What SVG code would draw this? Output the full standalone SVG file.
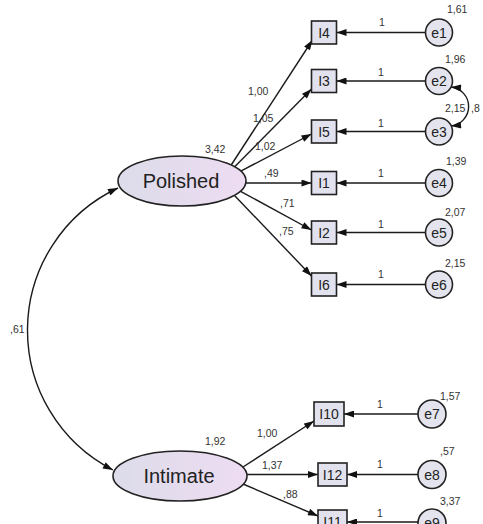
<svg xmlns="http://www.w3.org/2000/svg" width="483" height="524" viewBox="0 0 483 524">
<style>
.lbl{font-family:"Liberation Sans",Arial,sans-serif;font-size:10.5px;fill:#333}
.nt{font-family:"Liberation Sans",Arial,sans-serif;font-size:14px;fill:#222;text-anchor:middle}
.lt{font-family:"Liberation Sans",Arial,sans-serif;font-size:20px;fill:#222;text-anchor:middle}
.box{fill:#e2e2ee;stroke:#222;stroke-width:1.6}
.err{fill:#e4e4ee;stroke:#222;stroke-width:1.6}
.lat{fill:url(#lg);stroke:#222;stroke-width:1.6}
.c{fill:none;stroke:#1a1a1a;stroke-width:1.4}
</style>
<defs>
<linearGradient id="lg" x1="0" y1="0" x2="1" y2="0">
<stop offset="0" stop-color="#dcdcea"/>
<stop offset="1" stop-color="#eedcf2"/>
</linearGradient>
<marker id="ah" viewBox="0 0 10 7" markerUnits="userSpaceOnUse" markerWidth="11" markerHeight="7" refX="10" refY="3.5" orient="auto-start-reverse">
<path d="M0,0 L10,3.5 L0,7 z" fill="#111"/>
</marker>
</defs>
<rect width="483" height="524" fill="#fff"/>

<g id="connectors">
<path class="c" d="M231.2,165 L312.5,40" marker-end="url(#ah)"/>
<path class="c" d="M234.7,166.8 L311.5,89" marker-end="url(#ah)"/>
<path class="c" d="M240.8,171.1 L311.5,134" marker-end="url(#ah)"/>
<path class="c" d="M246,183 L311.5,183" marker-end="url(#ah)"/>
<path class="c" d="M240.6,191.3 L311.5,230" marker-end="url(#ah)"/>
<path class="c" d="M234.5,195.4 L311.5,276" marker-end="url(#ah)"/>
<path class="c" d="M425.5,32.5 L336.5,32.5" marker-end="url(#ah)"/>
<path class="c" d="M425.5,81 L336.5,81" marker-end="url(#ah)"/>
<path class="c" d="M425.5,131.5 L336.5,131.5" marker-end="url(#ah)"/>
<path class="c" d="M425.5,183 L336.5,183" marker-end="url(#ah)"/>
<path class="c" d="M425.5,232.5 L336.5,232.5" marker-end="url(#ah)"/>
<path class="c" d="M425.5,284.5 L336.5,284.5" marker-end="url(#ah)"/>
<path class="c" d="M451,87 A19.6,19.6 0 0 1 451,126" marker-start="url(#ah)" marker-end="url(#ah)"/>
<path class="c" d="M118,188 A157,157 0 0 0 113,470" marker-start="url(#ah)" marker-end="url(#ah)"/>
<path class="c" d="M243,467 L314,421" marker-end="url(#ah)"/>
<path class="c" d="M247,474.5 L318,474.5" marker-end="url(#ah)"/>
<path class="c" d="M243,484 L318,516" marker-end="url(#ah)"/>
<path class="c" d="M418,414 L344,414" marker-end="url(#ah)"/>
<path class="c" d="M418,474.5 L347,474.5" marker-end="url(#ah)"/>
<path class="c" d="M418.5,522 L347,522" marker-end="url(#ah)"/>
<text class="lbl" x="248" y="95">1,00</text>
<text class="lbl" x="253" y="122">1,05</text>
<text class="lbl" x="255" y="150">1,02</text>
<text class="lbl" x="264" y="177">,49</text>
<text class="lbl" x="280" y="207">,71</text>
<text class="lbl" x="279" y="235">,75</text>
<text class="lbl" x="379" y="26">1</text>
<text class="lbl" x="378" y="76">1</text>
<text class="lbl" x="378" y="127">1</text>
<text class="lbl" x="378" y="177">1</text>
<text class="lbl" x="378" y="228">1</text>
<text class="lbl" x="378" y="278">1</text>
<text class="lbl" x="471" y="112">,8</text>
<text class="lbl" x="10" y="333">,61</text>
<text class="lbl" x="257" y="437">1,00</text>
<text class="lbl" x="262" y="469">1,37</text>
<text class="lbl" x="283" y="498">,88</text>
<text class="lbl" x="377" y="408">1</text>
<text class="lbl" x="377" y="468">1</text>
<text class="lbl" x="377" y="517">1</text>
</g>

<g id="Polished">
<ellipse class="lat" cx="182" cy="181" rx="64" ry="25"/>
<text class="lt" x="181" y="188">Polished</text>
<text class="lbl" x="205" y="153">3,42</text>
</g>
<g id="Intimate">
<ellipse class="lat" cx="180" cy="476" rx="67" ry="25"/>
<text class="lt" x="179" y="483">Intimate</text>
<text class="lbl" x="205" y="445">1,92</text>
</g>

<g id="I4"><rect class="box" x="311.5" y="21" width="25" height="23"/><text class="nt" x="324" y="37.5">I4</text></g>
<g id="I3"><rect class="box" x="311.5" y="69.5" width="25" height="23"/><text class="nt" x="324" y="86">I3</text></g>
<g id="I5"><rect class="box" x="311.5" y="120" width="25" height="23"/><text class="nt" x="324" y="136.5">I5</text></g>
<g id="I1"><rect class="box" x="311.5" y="171.5" width="25" height="23"/><text class="nt" x="324" y="188">I1</text></g>
<g id="I2"><rect class="box" x="311.5" y="221" width="25" height="23"/><text class="nt" x="324" y="237.5">I2</text></g>
<g id="I6"><rect class="box" x="311.5" y="273" width="25" height="23"/><text class="nt" x="324" y="289.5">I6</text></g>
<g id="I10"><rect class="box" x="314" y="402" width="30" height="24"/><text class="nt" x="329" y="419">I10</text></g>
<g id="I12"><rect class="box" x="318" y="463" width="29" height="23"/><text class="nt" x="332.5" y="479.5">I12</text></g>
<g id="I11"><rect class="box" x="318" y="510" width="29" height="23"/><text class="nt" x="332.5" y="526.5">I11</text></g>

<g id="e1"><circle class="err" cx="439" cy="32.5" r="13.5"/><text class="nt" x="439" y="37.5">e1</text><text class="lbl" x="447" y="13">1,61</text></g>
<g id="e2"><circle class="err" cx="439" cy="81" r="13.5"/><text class="nt" x="439" y="86">e2</text><text class="lbl" x="445" y="63">1,96</text></g>
<g id="e3"><circle class="err" cx="439" cy="131.5" r="13.5"/><text class="nt" x="439" y="136.5">e3</text><text class="lbl" x="445" y="112">2,15</text></g>
<g id="e4"><circle class="err" cx="439" cy="183" r="13.5"/><text class="nt" x="439" y="188">e4</text><text class="lbl" x="446" y="165">1,39</text></g>
<g id="e5"><circle class="err" cx="439" cy="232.5" r="13.5"/><text class="nt" x="439" y="237.5">e5</text><text class="lbl" x="445" y="216">2,07</text></g>
<g id="e6"><circle class="err" cx="439" cy="284.5" r="13.5"/><text class="nt" x="439" y="289.5">e6</text><text class="lbl" x="445" y="267">2,15</text></g>
<g id="e7"><circle class="err" cx="432" cy="414" r="14"/><text class="nt" x="432" y="419">e7</text><text class="lbl" x="440" y="400">1,57</text></g>
<g id="e8"><circle class="err" cx="432" cy="474.5" r="14"/><text class="nt" x="432" y="479.5">e8</text><text class="lbl" x="440" y="455">,57</text></g>
<g id="e9"><circle class="err" cx="432" cy="523" r="14"/><text class="nt" x="432" y="528">e9</text><text class="lbl" x="440" y="505">3,37</text></g>
</svg>
